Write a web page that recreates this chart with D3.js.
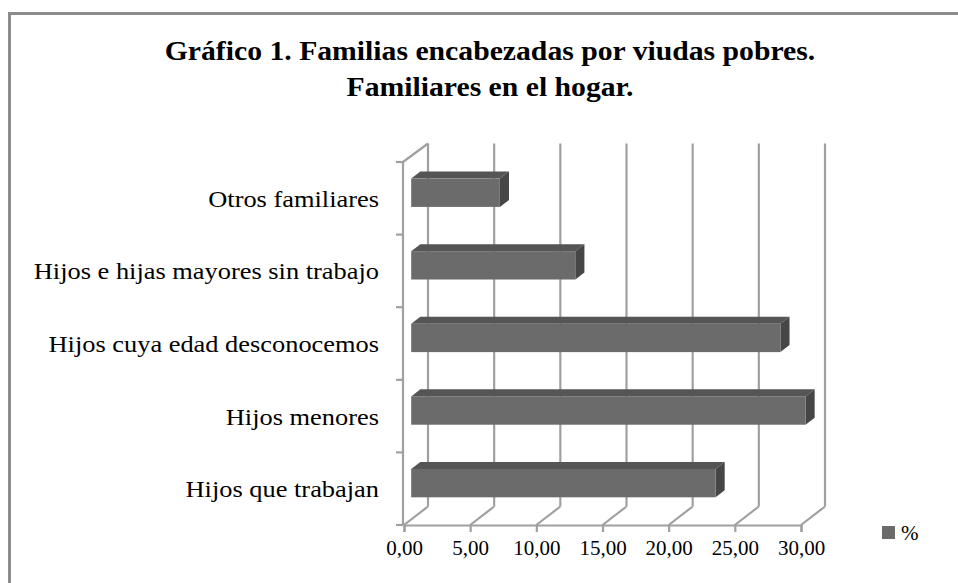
<!DOCTYPE html>
<html>
<head>
<meta charset="utf-8">
<script src="https://cdn.jsdelivr.net/npm/d3@7"></script>
<style>
  body { margin: 0; background: #fff; }
</style>
</head>
<body>
<script>
'use strict';

// chart data (top to bottom as shown)
const categories = [
  "Otros familiares",
  "Hijos e hijas mayores sin trabajo",
  "Hijos cuya edad desconocemos",
  "Hijos menores",
  "Hijos que trabajan"
];
const values = [6.7, 12.4, 27.9, 29.8, 23.0];
const tickValues = [0, 5, 10, 15, 20, 25, 30];
const titleLines = ["Gráfico 1. Familias encabezadas por viudas pobres.", "Familiares en el hogar."];
const legendLabel = "%";

(function() {
  const width = 958, height = 583;
  const serif = "'Liberation Serif', 'Times New Roman', serif";
  const stretch = 1.1; // the source text is a bit wider than the font

  const svg = d3.select('body')
    .append('svg')
    .attr('width', width)
    .attr('height', height)
    .attr('font-family', serif);

  // outer chart border (only top and left are visible)
  svg.append('path')
    .attr('d', 'M9.5,' + height + ' V13.5 H' + width)
    .attr('fill', 'none')
    .attr('stroke', '#8c8c8c')
    .attr('stroke-width', 3);

  // title
  svg.selectAll('.title')
    .data(titleLines)
    .enter()
    .append('text')
      .attr('class', 'title')
      .attr('transform', function(d, i) { return 'translate(490,' + (60 + i * 36) + ') scale(' + stretch + ',1)'; })
      .attr('text-anchor', 'middle')
      .attr('font-size', 27)
      .attr('font-weight', 'bold')
      .text(function(d) { return d; });

  // scales
  const x = d3.scaleLinear().domain([0, 30]).range([404, 801]);
  const y = d3.scaleBand().domain(categories).range([162, 525]);

  // 3d depth vector and bar depth placement
  const depth = { dx: 24, dy: -18.5 };
  const barFront = 0.3, barBack = 0.68;
  const gridColor = '#a0a0a0';

  const grid = svg.append('g');
  // back wall gridlines
  tickValues.forEach(function(t) {
    grid.append('line')
      .attr('x1', x(t) + depth.dx).attr('x2', x(t) + depth.dx)
      .attr('y1', y.range()[0] + depth.dy).attr('y2', y.range()[1] + depth.dy)
      .attr('stroke', gridColor).attr('stroke-width', 2.2);
    // floor lines
    grid.append('line')
      .attr('x1', x(t)).attr('x2', x(t) + depth.dx)
      .attr('y1', y.range()[1]).attr('y2', y.range()[1] + depth.dy)
      .attr('stroke', gridColor).attr('stroke-width', 2.2);
  });
  // left wall: top edge and front axis line
  grid.append('line')
    .attr('x1', x(0) - 1).attr('x2', x(0) + depth.dx)
    .attr('y1', y.range()[0]).attr('y2', y.range()[0] + depth.dy)
    .attr('stroke', gridColor).attr('stroke-width', 2.2);
  grid.append('line')
    .attr('x1', x(0) - 1).attr('x2', x(0) - 1)
    .attr('y1', y.range()[0]).attr('y2', y.range()[1])
    .attr('stroke', gridColor).attr('stroke-width', 2.2);
  // category tick marks
  const edges = categories.map(function(c) { return y(c); }).concat([y.range()[1]]);
  edges.forEach(function(e) {
    grid.append('line')
      .attr('x1', x(0) - 8).attr('x2', x(0) - 1)
      .attr('y1', e).attr('y2', e)
      .attr('stroke', gridColor).attr('stroke-width', 2.2);
  });

  // x axis
  const fmt = d3.format('.2f');
  const xAxis = d3.axisBottom(x)
    .tickValues(tickValues)
    .tickSize(7)
    .tickPadding(8)
    .tickFormat(function(d) { return fmt(d).replace('.', ','); });
  const gx = svg.append('g')
    .attr('transform', 'translate(0,' + y.range()[1] + ')')
    .call(xAxis);
  gx.attr('font-family', serif).attr('font-size', 21);
  gx.select('.domain').attr('stroke', gridColor).attr('stroke-width', 2.2);
  gx.selectAll('.tick line').attr('stroke', gridColor).attr('stroke-width', 2.2);
  gx.selectAll('.tick text').attr('fill', '#000');

  // category labels
  svg.append('g')
    .selectAll('text')
    .data(categories)
    .enter()
    .append('text')
      .attr('transform', function(d) {
        return 'translate(379,' + (y(d) + y.bandwidth() / 2) + ') scale(' + stretch + ',1)';
      })
      .attr('dy', '0.35em')
      .attr('text-anchor', 'end')
      .attr('font-size', 24)
      .text(function(d) { return d; });

  // 3d bars
  const barH = y.bandwidth() * 0.39;
  const fdx = depth.dx * barFront, fdy = depth.dy * barFront;
  const bdx = depth.dx * barBack, bdy = depth.dy * barBack;
  const bars = svg.append('g')
    .selectAll('g')
    .data(categories)
    .enter()
    .append('g');

  function geom(d, i) {
    const cy = y(d) + y.bandwidth() / 2 + fdy;
    return {
      x0: x(0) + fdx,
      x1: x(values[i]) + fdx,
      y0: cy - barH / 2,
      y1: cy + barH / 2,
      ox: bdx - fdx,
      oy: bdy - fdy
    };
  }

  // top face
  bars.append('path')
    .attr('d', function(d, i) {
      const g = geom(d, i);
      return 'M' + g.x0 + ',' + g.y0 + 'L' + (g.x0 + g.ox) + ',' + (g.y0 + g.oy) +
        'L' + (g.x1 + g.ox) + ',' + (g.y0 + g.oy) + 'L' + g.x1 + ',' + g.y0 + 'Z';
    })
    .attr('fill', '#555555');
  // side face
  bars.append('path')
    .attr('d', function(d, i) {
      const g = geom(d, i);
      return 'M' + g.x1 + ',' + g.y0 + 'L' + (g.x1 + g.ox) + ',' + (g.y0 + g.oy) +
        'L' + (g.x1 + g.ox) + ',' + (g.y1 + g.oy) + 'L' + g.x1 + ',' + g.y1 + 'Z';
    })
    .attr('fill', '#464646');
  // front face
  bars.append('rect')
    .attr('x', function(d, i) { return geom(d, i).x0; })
    .attr('y', function(d, i) { return geom(d, i).y0; })
    .attr('width', function(d, i) { const g = geom(d, i); return g.x1 - g.x0; })
    .attr('height', barH)
    .attr('fill', '#6b6b6b');

  // legend
  const legend = svg.append('g').attr('transform', 'translate(882,526)');
  legend.append('rect')
    .attr('width', 13).attr('height', 13)
    .attr('fill', '#6b6b6b');
  legend.append('text')
    .attr('x', 19).attr('y', 14)
    .attr('font-size', 21)
    .text(legendLabel);
})();
</script>
</body>
</html>
